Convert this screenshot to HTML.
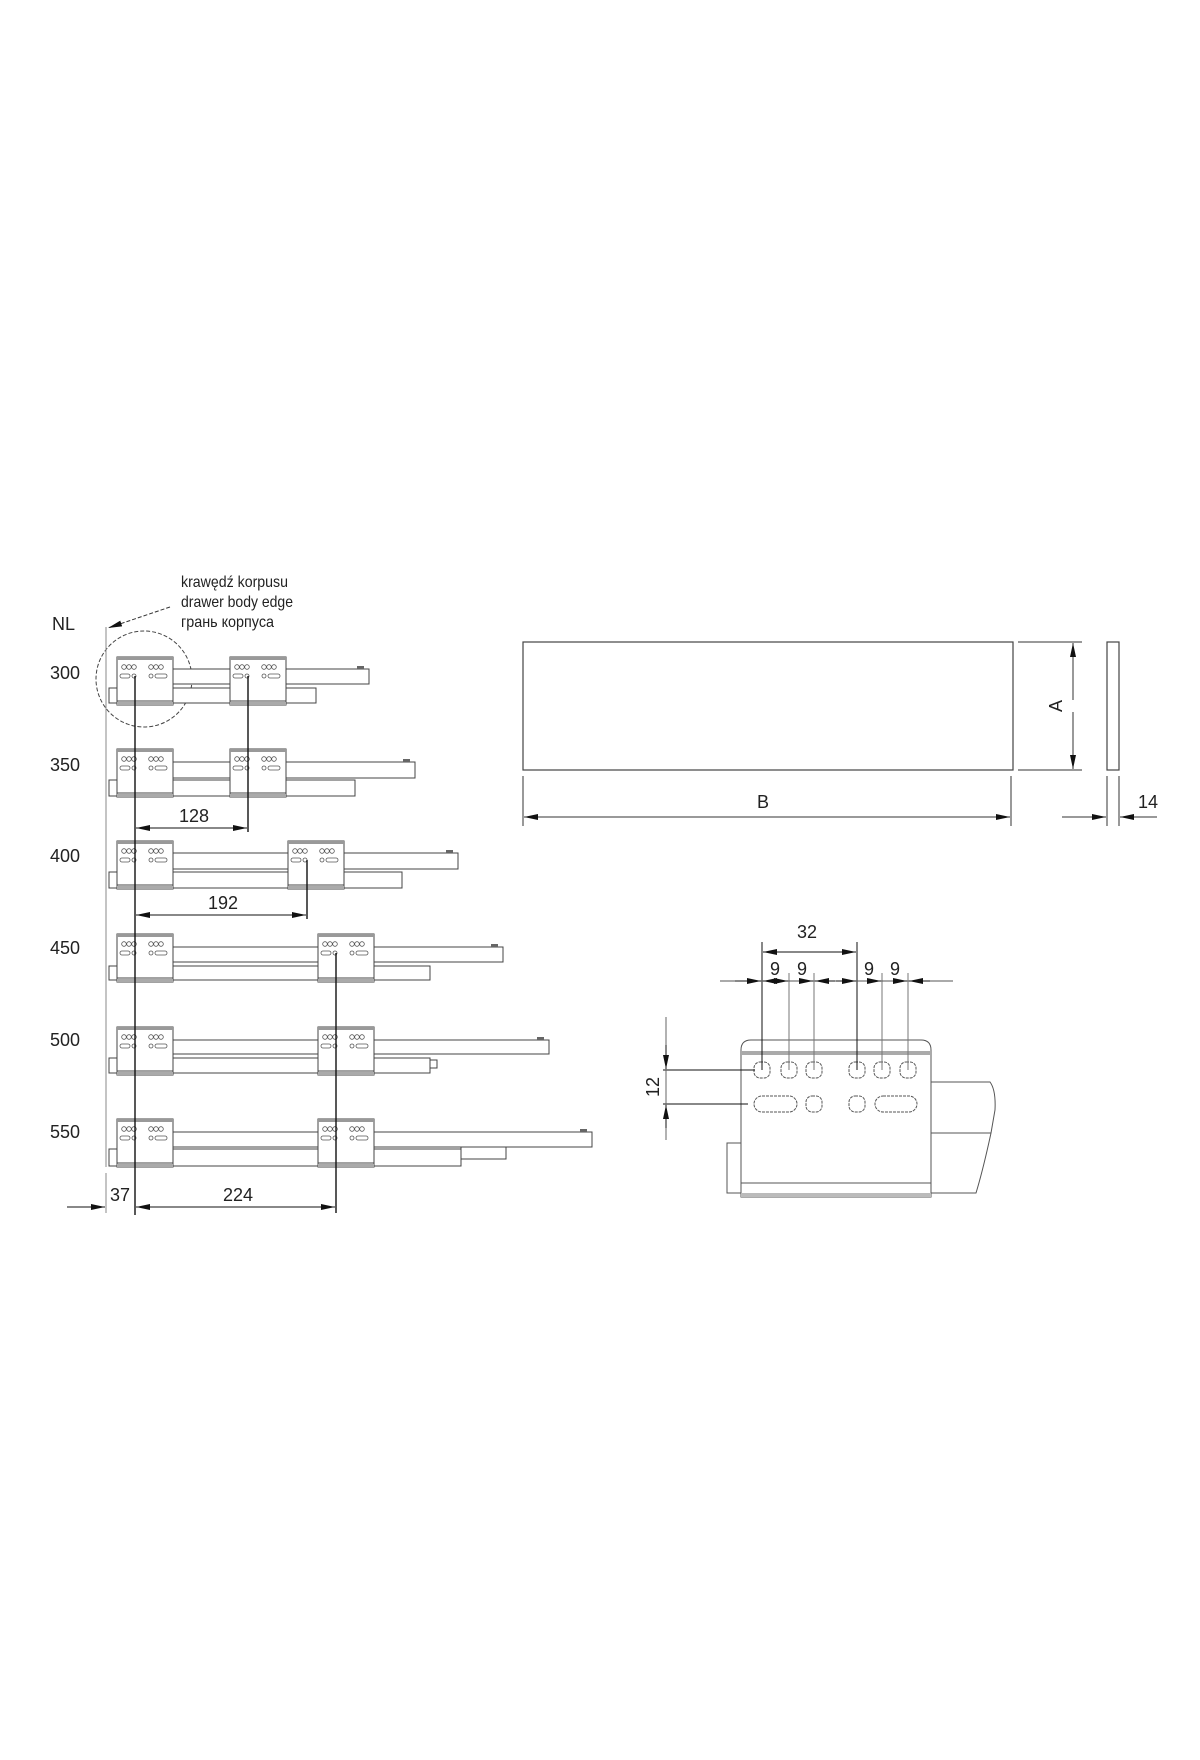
<!DOCTYPE html>
<html><head><meta charset="utf-8"><style>
html,body{margin:0;padding:0;background:#fff;}
svg{display:block;}
text{font-family:"Liberation Sans",sans-serif;fill:#222;}
</style></head><body>
<svg width="1200" height="1760" viewBox="0 0 1200 1760" xmlns="http://www.w3.org/2000/svg">
<defs>
<marker id="ar" viewBox="0 0 14 6" refX="14" refY="3" markerWidth="14" markerHeight="6" orient="auto" markerUnits="userSpaceOnUse"><path d="M0,0 L14,3 L0,6 z" fill="#111"/></marker>
<g id="br" stroke="#444" fill="#fff" stroke-width="1">
<rect x="0" y="0" width="56" height="48"/>
<rect x="0" y="0" width="56" height="3" fill="#999" stroke="none"/>
<line x1="0" y1="44" x2="56" y2="44"/>
<rect x="0" y="45" width="56" height="3" fill="#aaa" stroke="none"/>
<g fill="#fff" stroke="#555" stroke-width="0.8">
<circle cx="7" cy="10" r="2.3"/><circle cx="12" cy="10" r="2.3"/><circle cx="17" cy="10" r="2.3"/>
<circle cx="34" cy="10" r="2.3"/><circle cx="39" cy="10" r="2.3"/><circle cx="44" cy="10" r="2.3"/>
<rect x="3" y="17" width="10" height="4" rx="2"/><circle cx="17" cy="19" r="2"/>
<circle cx="34" cy="19" r="2"/><rect x="38" y="17" width="12" height="4" rx="2"/>
</g>
</g>
</defs>

<g font-size="18">
<text x="52" y="630">NL</text>
<text x="50" y="679">300</text>
<text x="50" y="771">350</text>
<text x="50" y="862">400</text>
<text x="50" y="954">450</text>
<text x="50" y="1046">500</text>
<text x="50" y="1138">550</text>
</g>
<g font-size="16">
<text x="181" y="587" textLength="107" lengthAdjust="spacingAndGlyphs">krawędź korpusu</text>
<text x="181" y="607" textLength="112" lengthAdjust="spacingAndGlyphs">drawer body edge</text>
<text x="181" y="627" textLength="93" lengthAdjust="spacingAndGlyphs">грань корпуса</text>
</g>
<line x1="170" y1="607" x2="108" y2="628" stroke="#333" stroke-dasharray="4,2" marker-end="url(#ar)"/>
<circle cx="144" cy="679" r="48" fill="none" stroke="#444" stroke-dasharray="4,2"/>

<line x1="106" y1="627" x2="106" y2="1167" stroke="#888" stroke-width="1"/>
<line x1="106" y1="1173" x2="106" y2="1213" stroke="#888"/>

<g stroke="#444" fill="#fff" stroke-width="1">
<rect x="109" y="688" width="207" height="15"/>
<rect x="166" y="669" width="203" height="15"/>
<rect x="109" y="780" width="246" height="16"/>
<rect x="166" y="762" width="249" height="16"/>
<rect x="109" y="872" width="293" height="16"/>
<rect x="166" y="853" width="292" height="16"/>
<rect x="109" y="966" width="321" height="14"/>
<rect x="166" y="947" width="337" height="15"/>
<rect x="109" y="1058" width="321" height="15"/>
<rect x="430" y="1060" width="7" height="8"/>
<rect x="166" y="1040" width="383" height="14"/>
<rect x="109" y="1149" width="352" height="17"/>
<rect x="461" y="1147" width="45" height="12"/>
<rect x="166" y="1132" width="426" height="15"/>
</g>
<g fill="#666">
<rect x="357" y="666" width="7" height="3"/><rect x="403" y="759" width="7" height="3"/>
<rect x="446" y="850" width="7" height="3"/><rect x="491" y="944" width="7" height="3"/>
<rect x="537" y="1037" width="7" height="3"/><rect x="580" y="1129" width="7" height="3"/>
</g>
<use href="#br" x="117" y="657"/><use href="#br" x="230" y="657"/>
<use href="#br" x="117" y="749"/><use href="#br" x="230" y="749"/>
<use href="#br" x="117" y="841"/><use href="#br" x="288" y="841"/>
<use href="#br" x="117" y="934"/><use href="#br" x="318" y="934"/>
<use href="#br" x="117" y="1027"/><use href="#br" x="318" y="1027"/>
<use href="#br" x="117" y="1119"/><use href="#br" x="318" y="1119"/>

<g stroke="#111" stroke-width="1.4" fill="none">
<line x1="135" y1="676" x2="135" y2="1215"/>
<line x1="248" y1="676" x2="248" y2="832"/>
<line x1="307" y1="860" x2="307" y2="919"/>
<line x1="336" y1="953" x2="336" y2="1213"/>
</g>
<g stroke="#111" stroke-width="1">
<line x1="190" y1="828" x2="136" y2="828" marker-end="url(#ar)"/>
<line x1="190" y1="828" x2="247" y2="828" marker-end="url(#ar)"/>
<line x1="215" y1="915" x2="136" y2="915" marker-end="url(#ar)"/>
<line x1="215" y1="915" x2="306" y2="915" marker-end="url(#ar)"/>
<line x1="67" y1="1207" x2="105" y2="1207" marker-end="url(#ar)"/>
<line x1="220" y1="1207" x2="136" y2="1207" marker-end="url(#ar)"/>
<line x1="220" y1="1207" x2="335" y2="1207" marker-end="url(#ar)"/>
</g>
<g font-size="18">
<text x="194" y="822" text-anchor="middle">128</text>
<text x="223" y="909" text-anchor="middle">192</text>
<text x="120" y="1201" text-anchor="middle">37</text>
<text x="238" y="1201" text-anchor="middle">224</text>
</g>

<g stroke="#444" fill="#fff" stroke-width="1.2">
<rect x="523" y="642" width="490" height="128"/>
<rect x="1107" y="642" width="12" height="128"/>
</g>
<g stroke="#333" stroke-width="1">
<line x1="1018" y1="642" x2="1082" y2="642"/>
<line x1="1018" y1="770" x2="1082" y2="770"/>
<line x1="1073" y1="700" x2="1073" y2="643" marker-end="url(#ar)"/>
<line x1="1073" y1="712" x2="1073" y2="769" marker-end="url(#ar)"/>
<line x1="523" y1="776" x2="523" y2="826"/>
<line x1="1011" y1="776" x2="1011" y2="826"/>
<line x1="760" y1="817" x2="524" y2="817" marker-end="url(#ar)"/>
<line x1="760" y1="817" x2="1010" y2="817" marker-end="url(#ar)"/>
<line x1="1107" y1="776" x2="1107" y2="826"/>
<line x1="1119" y1="776" x2="1119" y2="826"/>
<line x1="1062" y1="817" x2="1106" y2="817" marker-end="url(#ar)"/>
<line x1="1157" y1="817" x2="1120" y2="817" marker-end="url(#ar)"/>
</g>
<g font-size="18">
<text x="763" y="808" text-anchor="middle">B</text>
<text x="1148" y="808" text-anchor="middle">14</text>
<text transform="translate(1062,706) rotate(-90)" text-anchor="middle">A</text>
</g>

<g stroke="#555" fill="#fff" stroke-width="1">
<path d="M931,1082 L990,1082 Q996,1090 995,1110 L991,1133 Q983,1170 976,1193 L931,1193 z"/>
<line x1="931" y1="1133" x2="991" y2="1133"/>
<rect x="727" y="1143" width="14" height="50"/>
<path d="M741,1197 L741,1050 Q741,1040 751,1040 L921,1040 Q931,1040 931,1050 L931,1197 z"/>
<rect x="741" y="1051" width="190" height="4" fill="#aaa" stroke="none"/>
<line x1="741" y1="1183" x2="931" y2="1183"/>
<rect x="741" y="1193" width="190" height="4" fill="#bbb" stroke="none"/>
</g>
<g stroke="#555" fill="#fff" stroke-width="1" stroke-dasharray="3,1">
<rect x="754" y="1062" width="16" height="16" rx="6"/>
<rect x="781" y="1062" width="16" height="16" rx="6"/>
<rect x="806" y="1062" width="16" height="16" rx="6"/>
<rect x="849" y="1062" width="16" height="16" rx="6"/>
<rect x="874" y="1062" width="16" height="16" rx="6"/>
<rect x="900" y="1062" width="16" height="16" rx="6"/>
<rect x="754" y="1096" width="43" height="16" rx="8"/>
<rect x="806" y="1096" width="16" height="16" rx="6"/>
<rect x="849" y="1096" width="16" height="16" rx="6"/>
<rect x="875" y="1096" width="42" height="16" rx="8"/>
</g>
<g stroke="#111" stroke-width="1">
<line x1="762" y1="942" x2="762" y2="1070"/>
<line x1="857" y1="942" x2="857" y2="1070"/>
<line x1="789" y1="973" x2="789" y2="1070" stroke="#777"/>
<line x1="814" y1="973" x2="814" y2="1070" stroke="#777"/>
<line x1="882" y1="973" x2="882" y2="1070" stroke="#777"/>
<line x1="908" y1="973" x2="908" y2="1070" stroke="#777"/>
<line x1="809" y1="952" x2="763" y2="952" marker-end="url(#ar)"/>
<line x1="809" y1="952" x2="856" y2="952" marker-end="url(#ar)"/>
<line x1="720" y1="981" x2="953" y2="981" stroke="#555"/>
<line x1="735" y1="981" x2="761" y2="981" marker-end="url(#ar)"/>
<line x1="775" y1="981" x2="763" y2="981" marker-end="url(#ar)"/>
<line x1="776" y1="981" x2="788" y2="981" marker-end="url(#ar)"/>
<line x1="801" y1="981" x2="813" y2="981" marker-end="url(#ar)"/>
<line x1="835" y1="981" x2="815" y2="981" marker-end="url(#ar)"/>
<line x1="836" y1="981" x2="856" y2="981" marker-end="url(#ar)"/>
<line x1="869" y1="981" x2="881" y2="981" marker-end="url(#ar)"/>
<line x1="895" y1="981" x2="907" y2="981" marker-end="url(#ar)"/>
<line x1="930" y1="981" x2="909" y2="981" marker-end="url(#ar)"/>
<line x1="663" y1="1070" x2="755" y2="1070"/>
<line x1="663" y1="1104" x2="748" y2="1104"/>
<line x1="666" y1="1017" x2="666" y2="1140" stroke="#666"/>
<line x1="666" y1="1045" x2="666" y2="1069" marker-end="url(#ar)"/>
<line x1="666" y1="1128" x2="666" y2="1105" marker-end="url(#ar)"/>
</g>
<g font-size="18">
<text x="807" y="938" text-anchor="middle">32</text>
<text x="775" y="975" text-anchor="middle">9</text>
<text x="802" y="975" text-anchor="middle">9</text>
<text x="869" y="975" text-anchor="middle">9</text>
<text x="895" y="975" text-anchor="middle">9</text>
<text transform="translate(659,1087) rotate(-90)" text-anchor="middle">12</text>
</g>
</svg>
</body></html>
